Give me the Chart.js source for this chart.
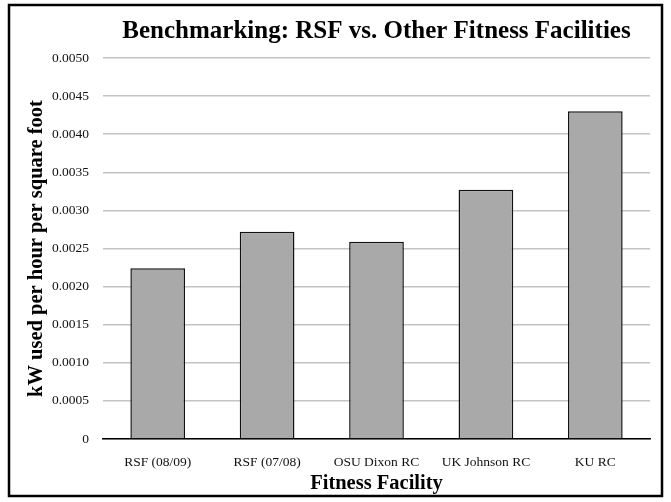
<!DOCTYPE html>
<html>
<head>
<meta charset="utf-8">
<script src="https://cdn.jsdelivr.net/npm/chart.js@4"></script>
<style>
  html, body { margin: 0; padding: 0; background: #fff; }
  #wrap { width: 671px; height: 502px; }
</style>
</head>
<body>
<div id="wrap"><canvas id="benchChart" width="671" height="502"></canvas></div>
<script>
const facilities = ["RSF (08/09)", "RSF (07/08)", "OSU Dixon RC", "UK Johnson RC", "KU RC"];
const kwPerSqFt = [0.00224, 0.00272, 0.00259, 0.00327, 0.0043];
const yMin = 0;
const yMax = 0.005;
const yStep = 0.0005;

const serif = "'Liberation Serif', 'Times New Roman', serif";

// white page + black frame around the whole chart
const framePlugin = {
  id: "frame",
  beforeDraw(chart) {
    const c = chart.ctx;
    c.save();
    c.fillStyle = "#fff";
    c.fillRect(0, 0, chart.width, chart.height);
    c.strokeStyle = "#000";
    c.lineWidth = 2.5;
    c.strokeRect(9, 5, 653, 491);
    c.restore();
  },
};

const ctx = document.getElementById("benchChart").getContext("2d");

new Chart(ctx, {
  type: "bar",
  data: {
    labels: facilities,
    datasets: [
      {
        label: "kW used per hour per square foot",
        data: kwPerSqFt,
        backgroundColor: "#a9a9a9",
        borderColor: "#111",
        borderWidth: 1.5,
        barPercentage: 1,
        categoryPercentage: 0.5,
      },
    ],
  },
  options: {
    responsive: false,
    animation: false,
    layout: { padding: { left: 24, right: 21, top: 17, bottom: 6 } },
    plugins: {
      legend: { display: false },
      tooltip: { enabled: false },
      title: {
        display: true,
        text: "Benchmarking: RSF vs. Other Fitness Facilities",
        fullSize: false,
        color: "#000",
        font: { family: serif, size: 25, weight: "bold", lineHeight: 1.2 },
        padding: { top: 0, bottom: 11 },
      },
    },
    scales: {
      x: {
        grid: { display: false, drawTicks: false },
        border: { display: true, color: "#000", width: 1.5 },
        ticks: {
          color: "#111",
          font: { family: serif, size: 13.5 },
          padding: 15,
          maxRotation: 0,
        },
        title: {
          display: true,
          text: "Fitness Facility",
          color: "#000",
          font: { family: serif, size: 20.5, weight: "bold" },
          padding: { top: 2, bottom: 0 },
        },
        afterFit: function (scale) {
          scale.height = 57;
        },
      },
      y: {
        min: yMin,
        max: yMax,
        grid: { color: "#c4c4c4", lineWidth: 1.5, drawTicks: false },
        border: { display: false },
        ticks: {
          stepSize: yStep,
          color: "#111",
          font: { family: serif, size: 13.5 },
          padding: 14,
          callback: function (value) {
            return value === 0 ? "0" : value.toFixed(4);
          },
        },
        title: {
          display: true,
          text: "kW used per hour per square foot",
          color: "#000",
          font: { family: serif, size: 20.5, weight: "bold" },
          padding: { top: 0, bottom: 6 },
        },
        afterFit: function (scale) {
          scale.width = 79;
        },
      },
    },
  },
  plugins: [framePlugin],
});
</script>
</body>
</html>
